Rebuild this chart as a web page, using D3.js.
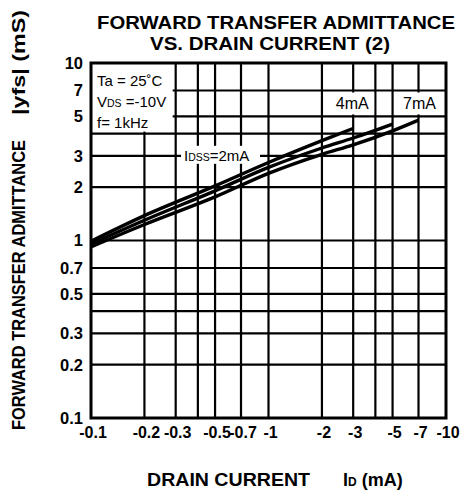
<!DOCTYPE html>
<html><head><meta charset="utf-8">
<script src="https://cdn.jsdelivr.net/npm/d3@7"></script>
<style>
html,body{margin:0;padding:0;background:#fff;}
svg{display:block;font-family:"Liberation Sans",Arial,Helvetica,sans-serif;}
</style></head>
<body><svg id="c" width="465" height="491"></svg>
<script>
// ---- data ----
const xTickValues = [0.1, 0.2, 0.3, 0.5, 0.7, 1, 2, 3, 5, 7, 10];
const xTickLabels = ["-0.1", "-0.2", "-0.3", "-0.5", "-0.7", "-1", "-2", "-3", "-5", "-7", "-10"];
const xGridValues = [0.2, 0.3, 0.4, 0.5, 0.7, 1, 2, 3, 4, 5, 7];
const yTickValues = [0.1, 0.2, 0.3, 0.5, 0.7, 1, 2, 3, 5, 7, 10];
const yTickLabels = ["0.1", "0.2", "0.3", "0.5", "0.7", "1", "2", "3", "5", "7", "10"];
const yGridValues = [0.2, 0.3, 0.4, 0.5, 0.7, 1, 2, 3, 4, 5, 7];

const seriesNames = ["IDSS=2mA", "4mA", "7mA"];
const idss2Id = [0.1, 0.2, 0.5, 1, 2, 3];
const idss2Yfs = [0.99, 1.38, 2.03, 2.75, 3.65, 4.28];
const idss4Id = [0.1, 0.2, 0.5, 1, 2, 3, 5];
const idss4Yfs = [0.955, 1.30, 1.905, 2.58, 3.32, 3.78, 4.53];
const idss7Id = [0.1, 0.2, 0.5, 1, 2, 3, 5, 7];
const idss7Yfs = [0.92, 1.23, 1.76, 2.39, 3.06, 3.46, 4.15, 4.77];

// ---- chart ----
const svg = d3.select("#c");
const x = d3.scaleLog().domain([0.1, 10]).range([91, 446]);
const y = d3.scaleLog().domain([0.1, 10]).range([418, 63]);
const bold = "bold";

// grid
const grid = svg.append("g").attr("stroke", "#000").attr("stroke-width", 2.2);
grid.selectAll("line.v").data(xGridValues).join("line").attr("class", "v")
  .attr("x1", d => x(d)).attr("x2", d => x(d)).attr("y1", y(10)).attr("y2", y(0.1));
grid.selectAll("line.h").data(yGridValues).join("line").attr("class", "h")
  .attr("x1", x(0.1)).attr("x2", x(10)).attr("y1", d => y(d)).attr("y2", d => y(d));

// white boxes for annotations
const boxes = svg.append("g").attr("fill", "#fff");
boxes.append("rect").attr("x", x(0.1) + 1).attr("y", y(10) + 1)
  .attr("width", x(0.3) - x(0.1) - 4).attr("height", y(4) - y(10) - 3);
const yLab = y(Math.sqrt(35));
boxes.append("rect").attr("x", x(3) - 21).attr("y", y(7) + 2).attr("width", 42).attr("height", y(5) - y(7) - 4);
boxes.append("rect").attr("x", x(7) - 20).attr("y", y(7) + 2).attr("width", 40).attr("height", y(5) - y(7) - 4);
boxes.append("rect").attr("x", 181).attr("y", y(3) - 10).attr("width", 79).attr("height", 18);

// frame
svg.append("rect").attr("x", x(0.1)).attr("y", y(10)).attr("width", x(10) - x(0.1)).attr("height", y(0.1) - y(10))
  .attr("fill", "none").attr("stroke", "#000").attr("stroke-width", 3);

// curves
const line = d3.line().x(d => x(d[0])).y(d => y(d[1])).curve(d3.curveMonotoneX);
const series = [
  idss2Id.map((v, i) => [v, idss2Yfs[i]]),
  idss4Id.map((v, i) => [v, idss4Yfs[i]]),
  idss7Id.map((v, i) => [v, idss7Yfs[i]])
];
svg.append("g").selectAll("path").data(series).join("path")
  .attr("d", line).attr("fill", "none").attr("stroke", "#000").attr("stroke-width", 3.4);

// tick labels
svg.append("g").selectAll("text").data(yTickValues).join("text")
  .attr("x", 83).attr("y", d => y(d)).attr("dy", "0.36em").attr("text-anchor", "end")
  .attr("font-size", 16.5).attr("font-weight", bold).text((d, i) => yTickLabels[i]);
svg.append("g").selectAll("text").data(xTickValues).join("text")
  .attr("x", d => x(d) + 2).attr("y", 438).attr("text-anchor", "middle")
  .attr("font-size", 16).attr("font-weight", bold).text((d, i) => xTickLabels[i]);

// title
svg.append("text").attr("x", 97).attr("y", 29).attr("font-size", 18).attr("font-weight", bold)
  .attr("textLength", 358).attr("lengthAdjust", "spacingAndGlyphs").text("FORWARD TRANSFER ADMITTANCE");
svg.append("text").attr("x", 150).attr("y", 49.5).attr("font-size", 18).attr("font-weight", bold)
  .attr("textLength", 240).attr("lengthAdjust", "spacingAndGlyphs").text("VS. DRAIN CURRENT (2)");

// x axis title
svg.append("text").attr("x", 147).attr("y", 486).attr("font-size", 19).attr("font-weight", bold)
  .attr("textLength", 163).attr("lengthAdjust", "spacingAndGlyphs").text("DRAIN CURRENT");
const idt = svg.append("text").attr("x", 343).attr("y", 486).attr("font-size", 18).attr("font-weight", bold);
idt.append("tspan").text("I");
idt.append("tspan").attr("font-size", 12).text("D");
idt.append("tspan").text(" (mA)");

// y axis title
svg.append("text").attr("transform", "translate(25,430) rotate(-90)").attr("font-size", 18).attr("font-weight", bold)
  .attr("textLength", 290).attr("lengthAdjust", "spacingAndGlyphs").text("FORWARD TRANSFER ADMITTANCE");
svg.append("text").attr("transform", "translate(25,115) rotate(-90)").attr("font-size", 18).attr("font-weight", bold)
  .attr("textLength", 105).attr("lengthAdjust", "spacingAndGlyphs").text("|yfs| (mS)");

// conditions
const cond = svg.append("g").attr("font-size", 15);
cond.append("text").attr("x", 97).attr("y", 86).text("Ta = 25˚C");
const vds = cond.append("text").attr("x", 97).attr("y", 107);
vds.append("tspan").text("V");
vds.append("tspan").attr("font-size", 10.5).text("DS");
vds.append("tspan").text(" =-10V");
cond.append("text").attr("x", 97).attr("y", 128).text("f= 1kHz");

// series labels
svg.append("text").attr("x", x(3) - 1).attr("y", yLab).attr("dy", "0.36em").attr("text-anchor", "middle")
  .attr("font-size", 16).text(seriesNames[1]);
svg.append("text").attr("x", x(7) + 1).attr("y", yLab).attr("dy", "0.36em").attr("text-anchor", "middle")
  .attr("font-size", 16).text(seriesNames[2]);
const idl = svg.append("text").attr("x", 184).attr("y", y(3)).attr("dy", "0.36em").attr("font-size", 15);
idl.append("tspan").text("I");
idl.append("tspan").attr("font-size", 10.5).text("DSS");
idl.append("tspan").text("=2mA");
</script></body></html>
